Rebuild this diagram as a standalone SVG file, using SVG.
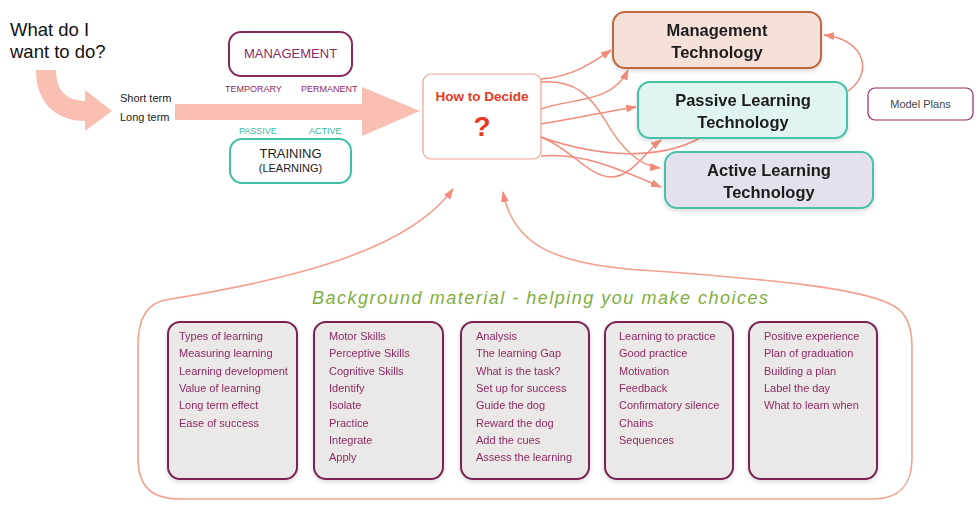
<svg xmlns="http://www.w3.org/2000/svg" width="980" height="524" viewBox="0 0 980 524">
<defs>
<style>
text{font-family:"Liberation Sans",Arial,sans-serif;}
.big{fill:#f9bfb3;}
.con{fill:none;stroke:#f28b7b;stroke-width:1.5;}
.outline{fill:none;stroke:#f4a090;stroke-width:1.6;}
.lst{font-size:11px;fill:#8e2a64;}
.ibox{fill:#ebe9e7;stroke:#7c2452;stroke-width:2;}
.tech{font-size:16.5px;font-weight:bold;fill:#1c1c1c;text-anchor:middle;}
</style>
<marker id="ah" markerWidth="11" markerHeight="8" refX="10" refY="4" orient="auto" markerUnits="userSpaceOnUse">
<path d="M0,0 L11,4 L0,8 z" fill="#f28b7b"/>
</marker>
<filter id="sh" x="-10%" y="-10%" width="120%" height="130%">
<feDropShadow dx="0" dy="2" stdDeviation="2" flood-color="#000" flood-opacity="0.15"/>
</filter>
</defs>

<rect width="980" height="524" fill="#ffffff"/>

<g id="start">
<text x="10" y="36" font-size="18.5" fill="#111">What do I</text>
<text x="10" y="58" font-size="18.5" fill="#111">want to do?</text>
<path d="M46,70 C46,96 60,111 86,111" fill="none" stroke="#f9bfb3" stroke-width="20"/>
<polygon class="big" points="85,90 112,111 85,131"/>
<text x="120" y="102" font-size="11" fill="#222">Short term</text>
<text x="120" y="121" font-size="11" fill="#222">Long term</text>
<rect class="big" x="175" y="104" width="188" height="16"/>
<polygon class="big" points="362,87 420,111 362,136"/>
</g>

<g id="management">
<rect x="229" y="32" width="123" height="44" rx="12" fill="#fff" stroke="#8a2a5a" stroke-width="2"/>
<text x="290.5" y="58" font-size="13" fill="#8e2a64" text-anchor="middle">MANAGEMENT</text>
<text x="225" y="92" font-size="9" fill="#8e2a64">TEMPORARY</text>
<text x="301" y="92" font-size="9" fill="#8e2a64">PERMANENT</text>
</g>

<g id="training">
<text x="239" y="134" font-size="9" fill="#36b7a0">PASSIVE</text>
<text x="309" y="134" font-size="9" fill="#36b7a0">ACTIVE</text>
<rect x="230" y="139" width="121" height="44" rx="12" fill="#fff" stroke="#3fbfa3" stroke-width="2"/>
<text x="290.5" y="158" font-size="13" fill="#222" text-anchor="middle">TRAINING</text>
<text x="290.5" y="172" font-size="11" fill="#222" text-anchor="middle">(LEARNING)</text>
</g>

<g id="how-to-decide">
<rect x="423" y="74" width="118" height="85" rx="8" fill="#fff" stroke="#f4a090" stroke-width="1.2"/>
<text x="482" y="101" font-size="13.5" font-weight="bold" fill="#e8381d" text-anchor="middle">How to Decide</text>
<text x="482" y="136" font-size="28" font-weight="bold" fill="#e8381d" text-anchor="middle">?</text>
</g>

<g id="connectors">
<path class="con" marker-end="url(#ah)" d="M541,79 C572,77 592,63 611,50"/>
<path class="con" marker-end="url(#ah)" d="M541,109 C570,98 612,104 628,70"/>
<path class="con" marker-end="url(#ah)" d="M541,124 C575,118 605,112 636,107"/>
<path class="con" marker-end="url(#ah)" d="M541,82 C575,80 590,95 605,120 C622,150 640,166 660,168"/>
<path class="con" marker-end="url(#ah)" d="M541,156 C585,152 625,172 661,187"/>
<path class="con" marker-end="url(#ah)" d="M541,137 C570,148 590,178 612,177 C632,176 645,152 661,140"/>
<path class="con" d="M541,137 C600,158 660,160 700,138"/>
<path class="con" marker-end="url(#ah)" d="M848,91 C872,75 868,40 824,35"/>
<path class="outline" marker-end="url(#ah)" d="M165,300 C275,282 405,255 453,189"/>
<path class="outline" marker-end="url(#ah)" d="M165,300 C145,304 138,322 138,345 L138,458 C138,485 150,499 180,499 L872,499 C900,499 912,485 912,458 L912,348 C912,322 904,310 890,304 C858,288 770,279 640,270 C555,264 513,245 503,192"/>
</g>

<g id="management-technology" filter="url(#sh)">
<rect x="613" y="12" width="208" height="56" rx="12" fill="#f6e1d9" stroke="#c0663f" stroke-width="2"/>
<text class="tech" x="717" y="36">Management</text>
<text class="tech" x="717" y="58">Technology</text>
</g>

<g id="passive-learning-technology" filter="url(#sh)">
<rect x="638" y="82" width="209" height="56" rx="12" fill="#e0f5f2" stroke="#47c2a8" stroke-width="2"/>
<text class="tech" x="743" y="106" font-size="17">Passive Learning</text>
<text class="tech" x="743" y="128" font-size="17">Technology</text>
</g>

<g id="active-learning-technology" filter="url(#sh)">
<rect x="665" y="152" width="208" height="56" rx="12" fill="#e5e1ec" stroke="#47c2a8" stroke-width="2"/>
<text class="tech" x="769" y="176" font-size="17">Active Learning</text>
<text class="tech" x="769" y="198" font-size="17">Technology</text>
</g>

<g id="model-plans">
<rect x="868" y="88" width="105" height="32" rx="7" fill="#fff" stroke="#8e2a64" stroke-width="1.2"/>
<text x="920.5" y="108" font-size="11" fill="#444" text-anchor="middle">Model Plans</text>
</g>

<g id="background-material">
<text x="312" y="304" font-size="18" font-style="italic" fill="#7fae3e" textLength="456" lengthAdjust="spacing">Background material - helping you make choices</text>
</g>

<g id="box-learning" filter="url(#sh)">
<rect class="ibox" x="168" y="322" width="129" height="157" rx="12"/>
<text class="lst" x="179" y="340">Types of learning</text>
<text class="lst" x="179" y="357.3">Measuring learning</text>
<text class="lst" x="179" y="374.6">Learning development</text>
<text class="lst" x="179" y="391.9">Value of learning</text>
<text class="lst" x="179" y="409.2">Long term effect</text>
<text class="lst" x="179" y="426.5">Ease of success</text>
</g>

<g id="box-skills" filter="url(#sh)">
<rect class="ibox" x="314" y="322" width="129" height="157" rx="12"/>
<text class="lst" x="329" y="340">Motor Skills</text>
<text class="lst" x="329" y="357.3">Perceptive Skills</text>
<text class="lst" x="329" y="374.6">Cognitive Skills</text>
<text class="lst" x="329" y="391.9">Identify</text>
<text class="lst" x="329" y="409.2">Isolate</text>
<text class="lst" x="329" y="426.5">Practice</text>
<text class="lst" x="329" y="443.8">Integrate</text>
<text class="lst" x="329" y="461.1">Apply</text>
</g>

<g id="box-analysis" filter="url(#sh)">
<rect class="ibox" x="461" y="322" width="128" height="157" rx="12"/>
<text class="lst" x="476" y="340">Analysis</text>
<text class="lst" x="476" y="357.3">The learning Gap</text>
<text class="lst" x="476" y="374.6">What is the task?</text>
<text class="lst" x="476" y="391.9">Set up for success</text>
<text class="lst" x="476" y="409.2">Guide the dog</text>
<text class="lst" x="476" y="426.5">Reward the dog</text>
<text class="lst" x="476" y="443.8">Add the cues</text>
<text class="lst" x="476" y="461.1">Assess the learning</text>
</g>

<g id="box-practice" filter="url(#sh)">
<rect class="ibox" x="605" y="322" width="128" height="157" rx="12"/>
<text class="lst" x="619" y="340">Learning to practice</text>
<text class="lst" x="619" y="357.3">Good practice</text>
<text class="lst" x="619" y="374.6">Motivation</text>
<text class="lst" x="619" y="391.9">Feedback</text>
<text class="lst" x="619" y="409.2">Confirmatory silence</text>
<text class="lst" x="619" y="426.5">Chains</text>
<text class="lst" x="619" y="443.8">Sequences</text>
</g>

<g id="box-plan" filter="url(#sh)">
<rect class="ibox" x="749" y="322" width="128" height="157" rx="12"/>
<text class="lst" x="764" y="340">Positive experience</text>
<text class="lst" x="764" y="357.3">Plan of graduation</text>
<text class="lst" x="764" y="374.6">Building a plan</text>
<text class="lst" x="764" y="391.9">Label the day</text>
<text class="lst" x="764" y="409.2">What to learn when</text>
</g>
</svg>
